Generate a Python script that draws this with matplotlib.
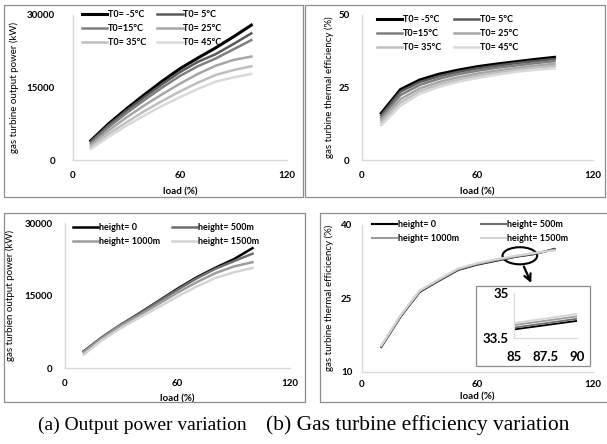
import matplotlib
matplotlib.use("Agg")
import matplotlib.pyplot as plt
from matplotlib.patches import Rectangle, Ellipse

W, H = 607, 444

load = [10, 20, 30, 40, 50, 60, 70, 80, 90, 100]

# (a) output power, ambient temperature
t0_labels = ["T0= -5°C", "T0= 5°C", "T0=15°C", "T0= 25°C", "T0= 35°C", "T0= 45°C"]
pw_m5 = [4000, 7500, 10600, 13500, 16300, 18900, 21100, 23200, 25500, 27900]
pw_5 = [3800, 7200, 10200, 13000, 15700, 18200, 20300, 21900, 24000, 26200]
pw_15 = [3500, 6800, 9700, 12400, 15000, 17400, 19400, 21000, 22900, 24800]
pw_25 = [3100, 6100, 8800, 11300, 13600, 15800, 17800, 19500, 20700, 21400]
pw_35 = [2700, 5400, 7800, 10100, 12200, 14200, 16000, 17600, 18600, 19400]
pw_45 = [2300, 4800, 7100, 9200, 11200, 13000, 14700, 16200, 17100, 17800]

# (b) efficiency, ambient temperature
ef_m5 = [16.1, 24.3, 27.6, 29.6, 31.0, 32.2, 33.1, 33.9, 34.7, 35.4]
ef_5 = [15.4, 23.6, 26.9, 28.9, 30.4, 31.6, 32.5, 33.4, 34.1, 34.8]
ef_15 = [14.6, 22.4, 25.9, 28.0, 29.6, 30.8, 31.8, 32.6, 33.4, 34.1]
ef_25 = [13.8, 21.0, 24.7, 26.9, 28.5, 29.8, 30.8, 31.7, 32.5, 33.2]
ef_35 = [12.9, 19.8, 23.7, 26.0, 27.7, 29.0, 30.1, 31.0, 31.8, 32.4]
ef_45 = [12.0, 18.7, 22.8, 25.2, 27.0, 28.3, 29.4, 30.4, 31.1, 31.6]

# (a) output power, height
h_labels = ["height= 0", "height= 500m", "height= 1000m", "height= 1500m"]
ph_0 = [3450, 6400, 9000, 11400, 13900, 16400, 18700, 20700, 22500, 24800]
ph_500 = [3400, 6400, 9000, 11300, 13800, 16200, 18500, 20500, 22100, 23650]
ph_1000 = [3250, 6200, 8800, 11000, 13300, 15600, 17700, 19600, 21000, 21900]
ph_1500 = [2800, 5800, 8300, 10500, 12600, 14800, 16800, 18600, 19800, 20700]

# (b) efficiency, height
eh_0 = [15.0, 21.2, 26.3, 28.6, 30.8, 31.9, 32.7, 33.5, 34.07, 35.1]
eh_500 = [15.1, 21.3, 26.4, 28.7, 30.9, 32.0, 32.8, 33.55, 34.14, 35.0]
eh_1000 = [15.2, 21.4, 26.5, 28.8, 31.0, 32.1, 32.9, 33.64, 34.22, 34.9]
eh_1500 = [15.3, 21.5, 26.6, 28.9, 31.1, 32.2, 33.0, 33.7, 34.3, 34.8]

cap_a = "(a) Output power variation"
cap_b = "(b) Gas turbine efficiency variation"

t0_colors = ["#000000", "#595959", "#7f7f7f", "#a6a6a6", "#bfbfbf", "#d9d9d9"]
t0_widths = [2.2, 1.8, 1.8, 1.8, 1.8, 1.8]
h_colors = ["#000000", "#6e6e6e", "#9c9c9c", "#d4d4d4"]

plt.rcParams['font.family'] = ['Lato', 'DejaVu Sans']
grid = "#d9d9d9"
fs = 7


def rect(x0, x1, y0, y1):
    # pixel box (top y0, bottom y1) -> figure fraction
    return [x0 / W, 1 - y1 / H, (x1 - x0) / W, (y1 - y0) / H]


def style(ax, ylab, yticks, ylim, ypad, xpad, ylab_x, xlab_y):
    ax.set_xlim(0, 120)
    ax.set_ylim(*ylim)
    ax.set_xticks([0, 60, 120])
    ax.set_yticks(yticks)
    ax.set_facecolor("none")
    for s in ["top", "right"]:
        ax.spines[s].set_visible(False)
    for s in ["left", "bottom"]:
        ax.spines[s].set_color(grid)
        ax.spines[s].set_linewidth(1.0)
    ax.tick_params(axis="y", length=0, pad=ypad, labelsize=fs)
    ax.tick_params(axis="x", length=0, pad=xpad, labelsize=fs)
    for t in ax.get_xticklabels() + ax.get_yticklabels():
        t.set_fontweight("bold")
    ax.set_xlabel("load (%)", fontsize=fs, fontweight="bold")
    ax.set_ylabel(ylab, fontsize=fs)
    ax.yaxis.set_label_coords(ylab_x, 0.5)
    ax.xaxis.set_label_coords(0.5, xlab_y)


def legend(ax, lines, labels, order, x, y, colsp):
    hs = [lines[i] for i in order]
    ls = [labels[i] for i in order]
    ax.legend(hs, ls, ncol=2, loc="upper left", bbox_to_anchor=(x, y),
              frameon=False, borderpad=0, borderaxespad=0,
              handlelength=2.8, handletextpad=0.1, columnspacing=colsp,
              labelspacing=0.55, prop={"size": 6.5, "weight": "bold"})


fig = plt.figure(figsize=(W / 100, H / 100), dpi=100)

# panel frames
for x0, x1, y0, y1 in [(4, 303, 5, 197), (305, 605, 5, 197), (4, 305, 213, 402), (320, 612, 213, 402)]:
    fig.patches.append(Rectangle((x0 / W, 1 - y1 / H), (x1 - x0) / W, (y1 - y0) / H,
                                 transform=fig.transFigure, fill=False,
                                 edgecolor="#8c8c8c", linewidth=0.9))

# top left
ax1 = fig.add_axes(rect(73, 287, 15, 160))
pw = [pw_m5, pw_5, pw_15, pw_25, pw_35, pw_45]
l1 = []
for v, c, w in zip(pw, t0_colors, t0_widths):
    l1 += ax1.plot(load, v, color=c, lw=w)
style(ax1, "gas turbine output power (kW)", [0, 15000, 30000], (0, 30000), 13, 8, -0.25, -0.19)
legend(ax1, l1, t0_labels, [0, 2, 4, 1, 3, 5], 0.042, 1.034, 1.2)

# top right
ax2 = fig.add_axes(rect(362, 593, 15, 160))
ef = [ef_m5, ef_5, ef_15, ef_25, ef_35, ef_45]
l2 = []
for v, c, w in zip(ef, t0_colors, t0_widths):
    l2 += ax2.plot(load, v, color=c, lw=w)
style(ax2, "gas turbine thermal efficiency (%)", [0, 25, 50], (0, 50), 9, 8, -0.12, -0.19)
legend(ax2, l2, t0_labels, [0, 2, 4, 1, 3, 5], 0.065, 1.0, 1.4)

# bottom left
ax3 = fig.add_axes(rect(65, 290, 223, 368))
ph = [ph_0, ph_500, ph_1000, ph_1500]
l3 = []
for v, c in zip(ph, h_colors):
    l3 += ax3.plot(load, v, color=c, lw=1.8)
style(ax3, "gas turbien output power (kW)", [0, 15000, 30000], (0, 30000), 9, 8, -0.22, -0.185)
legend(ax3, l3, h_labels, [0, 2, 1, 3], 0.036, 1.0, 1.3)

# bottom right
ax4 = fig.add_axes(rect(362, 593, 225, 371.5))
eh = [eh_0, eh_500, eh_1000, eh_1500]
l4 = []
for v, c in zip(eh, h_colors):
    l4 += ax4.plot(load, v, color=c, lw=1.5)
style(ax4, "gas turbine thermal efficicency (%)", [10, 25, 40], (10, 40), 7, 6, -0.12, -0.145)
legend(ax4, l4, h_labels, [0, 2, 1, 3], 0.043, 1.034, 2.4)

# circle + arrow pointing to the zoom box
ax4.add_patch(Ellipse((82, 33.7), 18, 3.5, fill=False, edgecolor="black", lw=1.5, clip_on=False))
ax4.annotate("", xy=(88.5, 27.6), xytext=(83.5, 32.0),
             arrowprops=dict(arrowstyle="->", color="black", lw=1.6, mutation_scale=12))

# inset box
fig.patches.append(Rectangle((476 / W, 1 - 366 / H), (590 - 476) / W, (366 - 286) / H,
                             transform=fig.transFigure, facecolor="white",
                             edgecolor="#8c8c8c", linewidth=0.9, zorder=1))
axin = fig.add_axes(rect(514, 577, 293, 338), zorder=2)
for v, c in zip(eh, h_colors):
    axin.plot(load, v, color=c, lw=1.3)
axin.set_xlim(85, 90)
axin.set_ylim(33.5, 35)
axin.set_xticks([85, 87.5, 90])
axin.set_xticklabels(["85", "87.5", "90"])
axin.set_yticks([33.5, 35])
axin.set_yticklabels(["33.5", "35"])
axin.set_facecolor("none")
for s in ["top", "right"]:
    axin.spines[s].set_visible(False)
for s in ["left", "bottom"]:
    axin.spines[s].set_color(grid)
axin.tick_params(axis="y", length=0, labelsize=9.5, pad=4)
axin.tick_params(axis="x", length=0, labelsize=9.5, pad=9)
for t in axin.get_xticklabels() + axin.get_yticklabels():
    t.set_fontweight("bold")

# captions
fig.text(38 / W, 1 - 425 / H, cap_a, family="Liberation Serif",
         fontsize=14, va="center", ha="left")
fig.text(266 / W, 1 - 425 / H, cap_b, family="Liberation Serif",
         fontsize=15.5, va="center", ha="left")

fig.savefig("out.png", dpi=100)
